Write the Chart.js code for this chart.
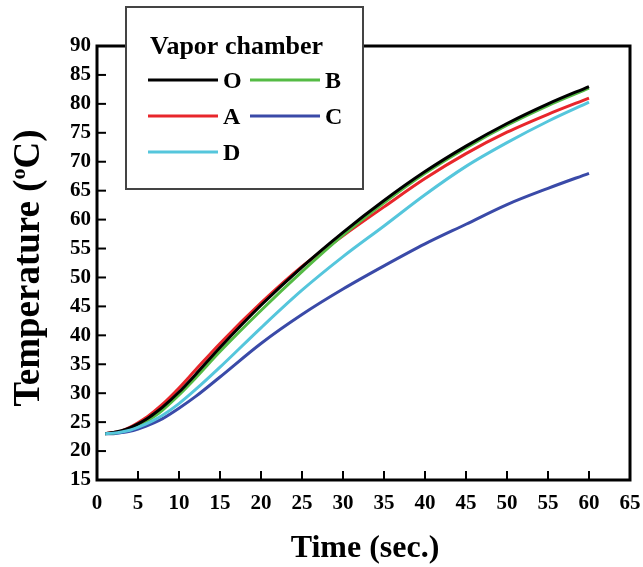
<!DOCTYPE html>
<html>
<head>
<meta charset="utf-8">
<script src="https://cdn.jsdelivr.net/npm/chart.js@4/dist/chart.umd.min.js"></script>
<style>
  html, body { margin: 0; padding: 0; background: #fff; }
  #wrap { width: 643px; height: 567px; }
</style>
</head>
<body>
<div id="wrap"><canvas id="myChart" width="643" height="567"></canvas></div>
<script>
// time axis (sec.)
var time = [1, 2, 3, 4, 5, 6, 7, 8, 10, 12, 15, 20, 25, 30, 35, 40, 45, 50, 55, 60];
// temperatures (oC)
var tO = [23, 23.2, 23.5, 24.0, 24.7, 25.5, 26.5, 27.6, 30.2, 33.2, 37.9, 45.2, 51.8, 57.8, 63.3, 68.3, 72.7, 76.6, 80.0, 83.0];
var tA = [23, 23.2, 23.5, 24.1, 24.9, 25.8, 26.9, 28.1, 30.9, 34.0, 38.6, 45.6, 51.9, 57.2, 62.2, 67.1, 71.4, 75.1, 78.2, 81.0];
var tB = [23, 23.1, 23.4, 23.8, 24.4, 25.1, 26.0, 27.1, 29.7, 32.6, 37.2, 44.3, 51.0, 57.3, 62.9, 68.0, 72.4, 76.3, 79.7, 82.7];
var tC = [23, 23.0, 23.2, 23.4, 23.8, 24.3, 24.9, 25.6, 27.4, 29.4, 32.8, 38.6, 43.6, 48.0, 52.0, 55.8, 59.2, 62.6, 65.4, 68.0];
var tD = [23, 23.1, 23.3, 23.6, 24.1, 24.7, 25.4, 26.2, 28.2, 30.6, 34.5, 41.3, 47.8, 53.6, 58.9, 64.3, 69.2, 73.3, 77.0, 80.3];

var names = ["O", "B", "A", "C", "D"];           // legend order
var series = [tO, tB, tA, tC, tD];
var colors = ["#000000", "#55bb44", "#e8262b", "#3a4aa8", "#55c6dc"];
var drawOrder = [2, 3, 4, 5, 1];                 // A ends up on top

var xTicks = [0, 5, 10, 15, 20, 25, 30, 35, 40, 45, 50, 55, 60, 65];
var yTicks = [15, 20, 25, 30, 35, 40, 45, 50, 55, 60, 65, 70, 75, 80, 85, 90];

var serif = "'Liberation Serif', 'Times New Roman', serif";

function pts(arr) {
  return arr.map(function (v, i) { return { x: time[i], y: v }; });
}

var datasets = names.map(function (n, i) {
  return {
    label: n,
    data: pts(series[i]),
    borderColor: colors[i],
    backgroundColor: colors[i],
    borderWidth: 3,
    pointRadius: 0,
    cubicInterpolationMode: "monotone",
    fill: false,
    order: drawOrder[i]
  };
});

// frame, inward ticks, titles and the boxed legend
var decor = {
  id: "decor",
  afterDatasetsDraw: function (chart) {
    var ctx = chart.ctx, a = chart.chartArea;
    var xs = chart.scales.x, ys = chart.scales.y;
    ctx.save();
    ctx.strokeStyle = "#000";
    ctx.lineWidth = 2;
    xTicks.forEach(function (t) {
      var px = xs.getPixelForValue(t);
      ctx.beginPath(); ctx.moveTo(px, a.bottom); ctx.lineTo(px, a.bottom - 9); ctx.stroke();
    });
    yTicks.forEach(function (t) {
      var py = ys.getPixelForValue(t);
      ctx.beginPath(); ctx.moveTo(a.left, py); ctx.lineTo(a.left + 9, py); ctx.stroke();
    });
    ctx.lineWidth = 3;
    ctx.strokeRect(a.left, a.top, a.right - a.left, a.bottom - a.top);
    ctx.restore();
  },
  afterDraw: function (chart) {
    var ctx = chart.ctx;
    ctx.save();
    ctx.fillStyle = "#000";

    // x title
    ctx.font = "bold 32px " + serif;
    ctx.textAlign = "center";
    ctx.textBaseline = "alphabetic";
    ctx.fillText("Time (sec.)", 365, 557);

    // y title with superscript o
    ctx.save();
    ctx.translate(39, 268);
    ctx.rotate(-Math.PI / 2);
    var big = "bold 37px " + serif, small = "bold 22px " + serif;
    ctx.font = big;
    var w1 = ctx.measureText("Temperature (").width;
    var w3 = ctx.measureText("C)").width;
    ctx.font = small;
    var w2 = ctx.measureText("o").width;
    var x0 = -(w1 + w2 + w3) / 2;
    ctx.textAlign = "left";
    ctx.font = big;
    ctx.fillText("Temperature (", x0, 0);
    ctx.font = small;
    ctx.fillText("o", x0 + w1, -14);
    ctx.font = big;
    ctx.fillText("C)", x0 + w1 + w2, 0);
    ctx.restore();

    // legend box
    ctx.fillStyle = "#fff";
    ctx.fillRect(126, 7, 237, 182);
    ctx.strokeStyle = "#444";
    ctx.lineWidth = 2;
    ctx.strokeRect(126, 7, 237, 182);
    ctx.fillStyle = "#000";
    ctx.textAlign = "left";
    ctx.font = "bold 26px " + serif;
    ctx.fillText("Vapor chamber", 150, 54);

    ctx.font = "bold 24px " + serif;
    ctx.textBaseline = "middle";
    chart.data.datasets.forEach(function (ds, i) {
      var col = i % 2, row = Math.floor(i / 2);
      var lx = 148 + col * 102, ly = 80 + row * 36;
      ctx.strokeStyle = ds.borderColor;
      ctx.lineWidth = 3;
      ctx.beginPath(); ctx.moveTo(lx, ly); ctx.lineTo(lx + 70, ly); ctx.stroke();
      ctx.fillStyle = "#000";
      ctx.fillText(ds.label, lx + 75, ly + 2);
    });
    ctx.restore();
  }
};

new Chart(document.getElementById("myChart"), {
  type: "line",
  data: { datasets: datasets },
  options: {
    responsive: false,
    animation: false,
    layout: { padding: { left: 0, right: 13, top: 46, bottom: 0 } },
    plugins: { legend: { display: false }, tooltip: { enabled: false } },
    scales: {
      x: {
        type: "linear",
        min: 0, max: 65,
        afterBuildTicks: function (s) { s.ticks = xTicks.map(function (v) { return { value: v }; }); },
        afterFit: function (s) { s.height = 87; s.paddingRight = 0; s.paddingLeft = 0; },
        grid: { display: false, drawTicks: false },
        border: { display: false },
        ticks: { color: "#000", padding: 11, maxRotation: 0, autoSkip: false,
                 font: { family: serif, size: 21, weight: "bold" } }
      },
      y: {
        min: 15, max: 90,
        afterBuildTicks: function (s) { s.ticks = yTicks.map(function (v) { return { value: v }; }); },
        afterFit: function (s) { s.width = 97; s.paddingTop = 0; s.paddingBottom = 0; },
        grid: { display: false, drawTicks: false },
        border: { display: false },
        ticks: { color: "#000", padding: 6, autoSkip: false,
                 font: { family: serif, size: 21, weight: "bold" } }
      }
    }
  },
  plugins: [decor]
});
</script>
</body>
</html>
